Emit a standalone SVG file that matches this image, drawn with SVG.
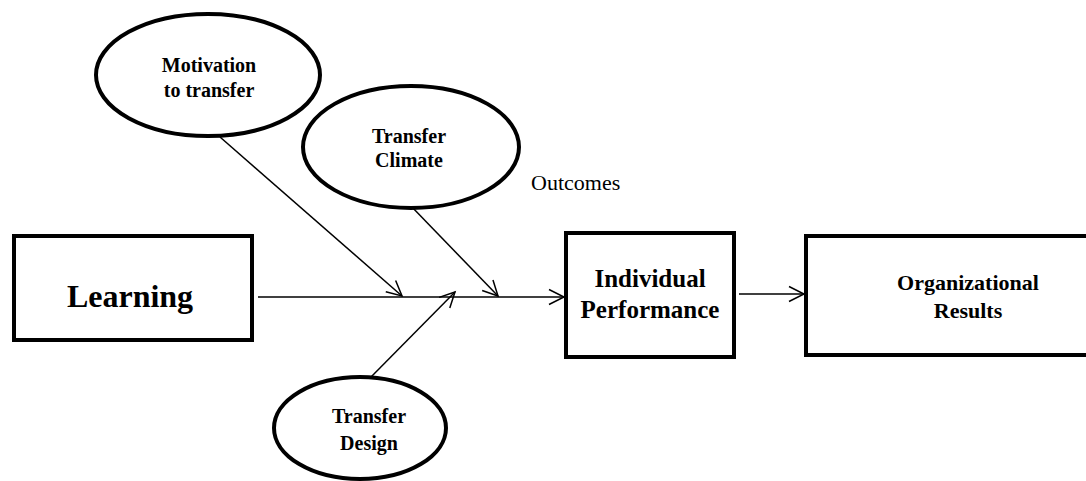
<svg xmlns="http://www.w3.org/2000/svg" width="1086" height="481" viewBox="0 0 1086 481">
<style>
.node{fill:#fff;stroke:#000;stroke-width:4}
.lbl{font-family:"Liberation Serif","Times New Roman",serif;font-weight:bold;fill:#000;text-anchor:middle}
.conn{stroke:#000;stroke-width:1.5;fill:none;marker-end:url(#arr)}
</style>
<defs>
<marker id="arr" markerUnits="userSpaceOnUse" markerWidth="20" markerHeight="20" refX="16" refY="8" orient="auto" viewBox="0 0 20 16">
<path d="M1,0.5 L16,8 L1,15.5" fill="none" stroke="#000" stroke-width="1.5"/>
</marker>
</defs>
<rect width="1086" height="481" fill="#fff"/>
<g id="connectors">
<line class="conn" x1="258" y1="297" x2="564" y2="297"/>
<line class="conn" x1="220" y1="137" x2="402" y2="296"/>
<line class="conn" x1="410" y1="205" x2="498" y2="296"/>
<line class="conn" x1="370" y1="378" x2="455" y2="292"/>
<line class="conn" x1="739" y1="294" x2="804" y2="294"/>
</g>
<g id="motivation">
<ellipse class="node" cx="208" cy="75" rx="112" ry="61"/>
<text class="lbl" x="209" y="72" font-size="20">Motivation</text>
<text class="lbl" x="209" y="97" font-size="20">to transfer</text>
</g>
<g id="climate">
<ellipse class="node" cx="411" cy="147" rx="108" ry="61"/>
<text class="lbl" x="409" y="143" font-size="20">Transfer</text>
<text class="lbl" x="409" y="167" font-size="20">Climate</text>
</g>
<g id="design">
<ellipse class="node" cx="360" cy="428" rx="86" ry="51"/>
<text class="lbl" x="369" y="423" font-size="20">Transfer</text>
<text class="lbl" x="369" y="450" font-size="20">Design</text>
</g>
<g id="outcomes">
<text x="531" y="190" font-family="Liberation Serif, serif" font-size="22" fill="#000">Outcomes</text>
</g>
<g id="learning">
<rect class="node" x="14" y="236" width="238" height="104"/>
<text class="lbl" x="130" y="307" font-size="32">Learning</text>
</g>
<g id="performance">
<rect class="node" x="566" y="233" width="168" height="124"/>
<text class="lbl" x="650" y="287" font-size="25">Individual</text>
<text class="lbl" x="650" y="318" font-size="25">Performance</text>
</g>
<g id="results">
<rect class="node" x="806" y="236" width="330" height="119"/>
<text class="lbl" x="968" y="290" font-size="22">Organizational</text>
<text class="lbl" x="968" y="318" font-size="22">Results</text>
</g>
</svg>
